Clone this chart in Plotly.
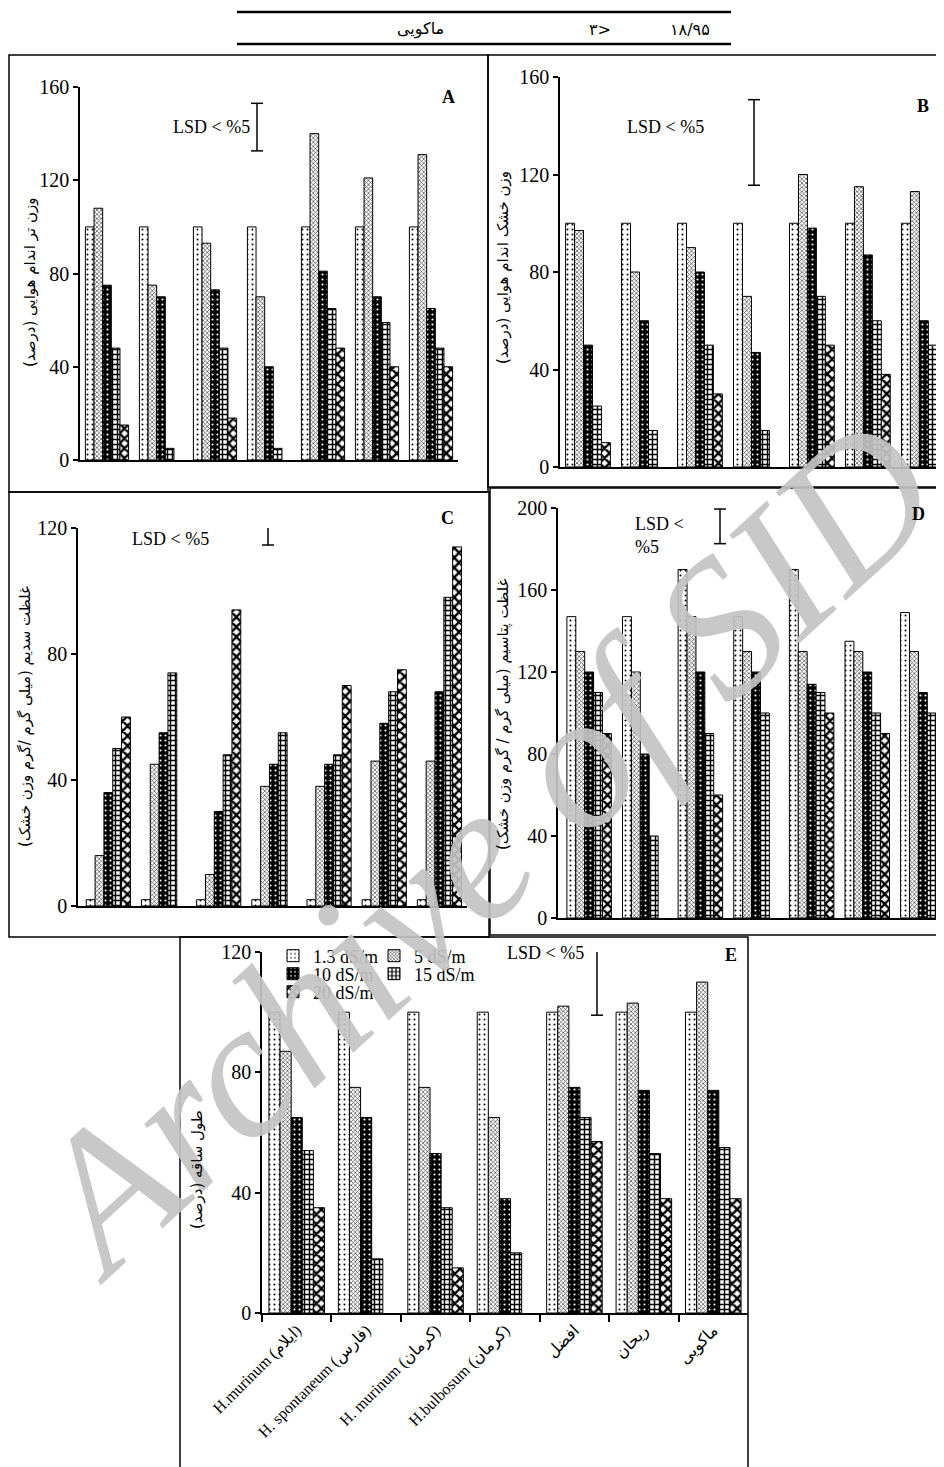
import math
import plotly.graph_objects as go

# page: body margin of 8px, so the figure is 936x1459 and is offset by 8px
OFF = 8
W, H = 936, 1459

categories = ["H.murinum (ایلام)", "H. spontaneum (فارس)", "H. murinum (کرمان)",
              "H.bulbosum (کرمان)", "افضل", "ریحان", "ماکویی"]
series_names = ["1.3 dS/m", "5 dS/m", "10 dS/m", "15 dS/m", "20 dS/m"]

# A: fresh weight of shoots (%)
fresh_weight = [
    [100, 100, 100, 100, 100, 100, 100],
    [108, 75, 93, 70, 140, 121, 131],
    [75, 70, 73, 40, 81, 70, 65],
    [48, 5, 48, 5, 65, 59, 48],
    [15, None, 18, None, 48, 40, 40],
]
# B: dry weight of shoots (%)
dry_weight = [
    [100, 100, 100, 100, 100, 100, 100],
    [97, 80, 90, 70, 120, 115, 113],
    [50, 60, 80, 47, 98, 87, 60],
    [25, 15, 50, 15, 70, 60, 50],
    [10, None, 30, None, 50, 38, 30],
]
# C: sodium concentration
sodium = [
    [2, 2, 2, 2, 2, 2, 2],
    [16, 45, 10, 38, 38, 46, 46],
    [36, 55, 30, 45, 45, 58, 68],
    [50, 74, 48, 55, 48, 68, 98],
    [60, None, 94, None, 70, 75, 114],
]
# D: potassium concentration
potassium = [
    [147, 147, 170, 147, 170, 135, 149],
    [130, 120, 147, 130, 130, 130, 130],
    [120, 80, 120, 120, 114, 120, 110],
    [110, 40, 90, 100, 110, 100, 100],
    [90, None, 60, None, 100, 90, 90],
]
# E: stem length (%)
stem_length = [
    [100, 100, 100, 100, 100, 100, 100],
    [87, 75, 75, 65, 102, 103, 110],
    [65, 65, 53, 38, 75, 74, 74],
    [54, 18, 35, 20, 65, 53, 55],
    [35, None, 15, None, 57, 38, 38],
]
# LSD (5%) bars: low, high
lsd_a = [132.6, 153.0]
lsd_b = [115.6, 150.7]
lsd_c = [114.6, 123.5]
lsd_d = [182.6, 199.5]
lsd_e = [99.0, 124.0]

y_ticks_a = [0, 40, 80, 120, 160]
y_ticks_c = [0, 40, 80, 120]
y_ticks_d = [0, 40, 80, 120, 160, 200]

titles = {
    "A": "وزن تر اندام هوایی (درصد)",
    "B": "وزن خشک اندام هوایی (درصد)",
    "C": "غلظت سدیم (میلی گرم /گرم وزن خشک)",
    "D": "غلظت پتاسیم (میلی گرم / گرم وزن خشک)",
    "E": "طول ساقه (درصد)",
}

SERIF = "Liberation Serif, DejaVu Serif, DejaVu Sans, serif"
PERS = "DejaVu Sans, Noto Sans, sans-serif"

styles = [
    dict(color="white", pattern=dict(shape=".", fgcolor="black", bgcolor="white", size=5, solidity=0.12, fillmode="replace")),
    dict(color="white", pattern=dict(shape="x", fgcolor="#444444", bgcolor="white", size=3, solidity=0.4, fillmode="replace")),
    dict(color="black", pattern=dict(shape=".", fgcolor="white", bgcolor="black", size=5, solidity=0.15, fillmode="replace")),
    dict(color="white", pattern=dict(shape="+", fgcolor="black", bgcolor="white", size=5, solidity=0.5, fillmode="replace")),
    dict(color="white", pattern=dict(shape="x", fgcolor="black", bgcolor="white", size=7, solidity=0.55, fillmode="replace")),
]

def px(x):
    return (x - OFF) / W

def py(y):
    return 1 - (y - OFF) / H

fig = go.Figure()

panels = [
    ("A", fresh_weight, "", (80, 458), (460, 87), [0, 160], [-0.5, 6.5], y_ticks_a),
    ("B", dry_weight, "2", (560, 944), (467, 77), [0, 160], [-0.5, 6.36], y_ticks_a),
    ("C", sodium, "3", (78, 467), (906, 528), [0, 120], [-0.55, 6.5], y_ticks_c),
    ("D", potassium, "4", (558, 944), (918, 508), [0, 200], [-0.56, 6.38], y_ticks_d),
    ("E", stem_length, "5", (262, 748), (1313, 952), [0, 120], [-0.5, 6.5], y_ticks_c),
]

legend_of = {0: "legend", 1: "legend", 2: "legend2", 3: "legend2", 4: "legend3"}

for key, data, suf, (x0, x1), (yz, yt), yr, xr, yt_vals in panels:
    for i, vals in enumerate(data):
        st = styles[i]
        fig.add_trace(go.Bar(
            x=categories, y=vals, name=series_names[i],
            xaxis="x" + suf, yaxis="y" + suf,
            marker=dict(color=st["color"], pattern=st["pattern"],
                        line=dict(color="black", width=1)),
            showlegend=(key == "E"), legend=legend_of[i], offsetgroup=str(i),
        ))
    xa = dict(domain=[px(x0), min(1, px(x1))], anchor="y" + suf, range=xr,
              type="category", showline=True, linecolor="black", linewidth=1.5,
              showgrid=False, zeroline=False, fixedrange=True, automargin=False)
    if key == "E":
        xa.update(ticks="outside", tickson="boundaries", ticklen=7, tickcolor="black",
                  tickwidth=1.5, tickangle=-45, showticklabels=True,
                  tickfont=dict(family=SERIF, size=16, color="black"))
    else:
        xa.update(ticks="", showticklabels=False)
    ya = dict(domain=[py(yz), py(yt)], anchor="x" + suf, range=yr,
              tickvals=yt_vals, ticks="outside", ticklen=5, tickcolor="black",
              tickwidth=1.5, showline=True, linecolor="black", linewidth=1.5,
              showgrid=False, zeroline=False, automargin=False,
              tickfont=dict(family=SERIF, size=20, color="black"))
    fig.update_layout({"xaxis" + suf: xa, "yaxis" + suf: ya})

annotations = []
shapes = []

def note(text, x, y, size, family=SERIF, angle=0, xanchor="center", align="center",
         color="black"):
    annotations.append(dict(text=text, x=px(x), y=py(y), xref="paper", yref="paper",
                            showarrow=False, xanchor=xanchor, yanchor="middle",
                            textangle=angle, align=align,
                            font=dict(family=family, size=size, color=color)))

# Watermark "Archive of SID" (drawn first so the chart texts sit on top of it)
wm_size, wm_angle, wm_center = 194, 42.6, (482, 846)
wm_words = [("Archive", 3.11), ("of SID", 2.58)]
total = (3.11 + 0.25 + 2.58) * wm_size
dx, dy = math.cos(math.radians(wm_angle)), -math.sin(math.radians(wm_angle))
start = -total / 2
for word, em in wm_words:
    w = em * wm_size
    mid = start + w / 2
    note("<i>%s</i>" % word, wm_center[0] + mid * dx, wm_center[1] + mid * dy, wm_size,
         angle=-wm_angle, color="rgba(195,195,195,0.92)")
    start += w + 0.25 * wm_size

# Header
for yline in (12, 44):
    shapes.append(dict(type="line", xref="paper", yref="paper", x0=px(237), x1=px(731),
                       y0=py(yline), y1=py(yline), line=dict(color="black", width=2.5)))
for txt, xx in (("ماکویی", 420), ("۳>", 600), ("۱۸/۹۵", 690)):
    note(txt, xx, 29, 16, family=PERS)

# Panel boxes
boxes = [(9, 55, 488, 492), (488, 55, 960, 487), (9, 492, 489, 937),
         (490, 488, 960, 935), (180, 937, 748, 1480)]
for bx0, by0, bx1, by1 in boxes:
    shapes.append(dict(type="rect", xref="paper", yref="paper", x0=px(bx0), x1=px(bx1),
                       y0=py(by0), y1=py(by1), line=dict(color="black", width=1.5)))

# Panel letters
for letter, xx, yy in (("A", 448, 97), ("B", 923, 106), ("C", 447, 518),
                       ("D", 918, 514), ("E", 731, 955)):
    note("<b>%s</b>" % letter, xx, yy, 18)

# Y titles
for key, xx, yy in (("A", 30, 283), ("B", 503, 268), ("C", 25, 717),
                    ("D", 503, 714), ("E", 197, 1170)):
    note(titles[key], xx, yy, 15, family=PERS, angle=-90)

# LSD labels and bars
lsd_specs = [
    ("", lsd_a, 257, "LSD < %5", 211, 127, "center"),
    ("2", lsd_b, 754, "LSD < %5", 665, 127, "center"),
    ("3", lsd_c, 268, "LSD < %5", 170, 539, "center"),
    ("4", lsd_d, 720, "LSD <<br>%5", 633, 535, "left"),
    ("5", lsd_e, 597, "LSD < %5", 545, 953, "center"),
]
for suf, (lo, hi), xx, label, lx, ly, anchor in lsd_specs:
    yref = "y" + suf
    shapes.append(dict(type="line", xref="paper", yref=yref, x0=px(xx), x1=px(xx),
                       y0=lo, y1=hi, line=dict(color="black", width=1.5)))
    for v in (lo, hi):
        shapes.append(dict(type="line", xref="paper", yref=yref, x0=px(xx - 6),
                           x1=px(xx + 6), y0=v, y1=v, line=dict(color="black", width=1.5)))
    note(label, lx, ly, 18, xanchor=anchor, align="left")

leg_common = dict(xanchor="left", yanchor="middle", orientation="h",
                  bgcolor="rgba(0,0,0,0)", font=dict(family=SERIF, size=18, color="black"),
                  itemwidth=30, borderwidth=0, entrywidth=56, entrywidthmode="pixels")

fig.update_layout(
    template="none",
    width=W, height=H, margin=dict(l=0, r=0, t=0, b=0, pad=0, autoexpand=False),
    paper_bgcolor="white", plot_bgcolor="white",
    barmode="group", bargap=0.2, bargroupgap=0,
    shapes=shapes, annotations=annotations,
    legend=dict(x=px(273), y=py(956), **leg_common),
    legend2=dict(x=px(273), y=py(974), **leg_common),
    legend3=dict(x=px(273), y=py(992), **leg_common),
    showlegend=True,
)

fig.write_html("out.html")
